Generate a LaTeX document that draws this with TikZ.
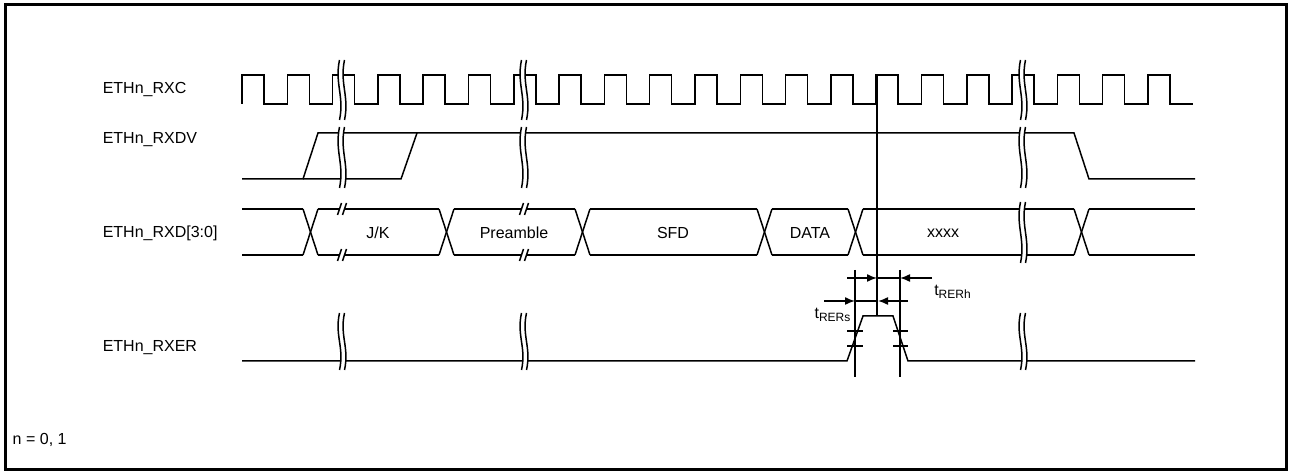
\documentclass[tikz,border=0pt]{standalone}
\usepackage{fontspec}
\setmainfont{Liberation Sans}
\usepackage{tikz}
\usetikzlibrary{arrows.meta}

% wavy double break: x, top, bottom
\newcommand{\wavebrk}[3]{%
	\pgfmathsetmacro{\wh}{#3-#2}
	\draw[white,line width=2.2pt] (#1,#2) .. controls (#1-5,#2+0.4*\wh) and (#1+5,#2+0.6*\wh) .. (#1,#3);
	\foreach \dx in {-2.5,2.5}{
		\draw (#1+\dx,#2) .. controls (#1+\dx-5,#2+0.4*\wh) and (#1+\dx+5,#2+0.6*\wh) .. (#1+\dx,#3);
	}
}
% short double slash on a bus line: x, y
\newcommand{\slashbrk}[2]{%
	\draw[white,line width=2.2pt] (#1+2,#2-6) -- (#1-2,#2+6);
	\foreach \dx in {-2.5,2.5}{
		\draw (#1+2+\dx,#2-6) -- (#1-2+\dx,#2+6);
	}
}

\begin{document}
\begin{tikzpicture}[x=0.5pt,y=-0.5pt,line width=0.75pt,
	sig/.style={anchor=west,inner sep=0pt,font=\fontsize{8}{10}\selectfont},
	val/.style={font=\fontsize{8}{10}\selectfont},
	dim/.style={-{Latex[length=5pt,width=4pt]}}]
				\useasboundingbox (0,0) rectangle (1291,475);
				% frame
				\draw[line width=1.5pt] (5,5) rectangle (1286,470);
				% signal names
				\node[sig] (rxc) at (102,90) {ETHn\_RXC};
				\node[sig] (rxdv) at (102,140) {ETHn\_RXDV};
				\node[sig] (rxd) at (102,233) {ETHn\_RXD[3:0]};
				\node[sig] (rxer) at (102,348) {ETHn\_RXER};
				\node[sig] (nval) at (12,440) {n = 0, 1};
				% clock
				\pgfmathsetmacro{\per}{45.3}
				\draw (242,104) \foreach \k in {0,...,20}{ -- ++(0,-29) -- ++(22,0) -- ++(0,29) -- ++(\per-22,0)};
				% data valid
				\draw (242,179) -- (303,179) -- (318,133) -- (1074,133) -- (1089,179) -- (1195,179);
				\draw (303,179) -- (401,179) -- (417,133);
				% data bus
				\foreach \a/\b in {242/303,318/439,454/575,590/757,772/848,863/1074,1089/1195}{
					\draw (\a,209) -- (\b,209);
					\draw (\a,255) -- (\b,255);
				}
				\foreach \c in {310.5,446.5,582.5,764.5,855.5,1081.5}{
					\draw (\c-7.5,209) -- (\c+7.5,255);
					\draw (\c-7.5,255) -- (\c+7.5,209);
				}
				\foreach \nm/\x/\lbl in {jk/378/{J/K},pre/514/Preamble,sfd/673/SFD,dat/810/DATA,xx/943/xxxx}{
					\node[val] (\nm) at (\x,233) {\lbl};
				}
				% receive error
				\draw (242,361) -- (847,361) -- (863,316) -- (893,316) -- (908,361) -- (1195,361);
				% timing lines
				\coordinate (edge) at (877,75);
				\coordinate (top) at (877,316);
				\draw (edge) -- (top);
				\draw (855,270) -- (855,377);
				\draw (900,270) -- (900,377);
				\foreach \y in {331,346}{
					\draw (847,\y) -- (863,\y);
					\draw (893,\y) -- (908,\y);
				}
				% hold
				\coordinate (hL) at (847,278);
				\coordinate (hA) at (877,278);
				\coordinate (hB) at (900,278);
				\coordinate (hR) at (932,278);
				\draw[dim] (hL) -- (hA);
				\draw (hA) -- (hB);
				\draw[dim] (hR) -- (hB);
				\node[val] (trerh) at (953,292) {t\textsubscript{RERh}};
				% setup
				\coordinate (sL) at (824,301);
				\coordinate (sA) at (855,301);
				\coordinate (sB) at (878,301);
				\coordinate (sR) at (908,301);
				\draw[dim] (sL) -- (sA);
				\draw (sA) -- (sB);
				\draw[dim] (sR) -- (sB);
				\node[val] (trers) at (833,315) {t\textsubscript{RERs}};
				% breaks
				\foreach \x in {342,524,1023}{
					\wavebrk{\x}{60}{120}
					\wavebrk{\x}{127}{188}
					\wavebrk{\x}{313}{370}
				}
				\foreach \x in {342,524}{
					\slashbrk{\x}{209}
					\slashbrk{\x}{255}
				}
				\wavebrk{1023}{202}{263}
\end{tikzpicture}
\end{document}
